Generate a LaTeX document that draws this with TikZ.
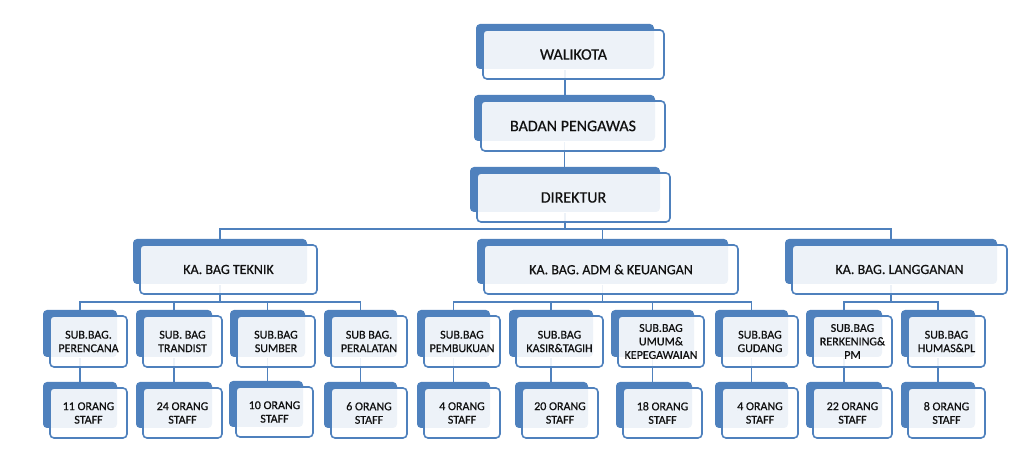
\documentclass[tikz,border=0pt]{standalone}
\usepackage{fontspec}
\setmainfont[FakeBold=0.6]{Carlito}
\definecolor{blu}{HTML}{4F81BD}
\definecolor{txt}{HTML}{111111}
\pgfdeclarelayer{bg}
\pgfdeclarelayer{backl}
\pgfsetlayers{bg,backl,main}
\tikzset{
  front/.style={draw=blu, line width=1.6pt, rounded corners=4pt, fill=white, fill opacity=0.9, text opacity=1, inner sep=0pt, align=center, text=txt},
  lvlA/.style={font=\fontsize{16}{19}\selectfont},
  lvlB/.style={font=\fontsize{14}{17}\selectfont},
  lvlC/.style={font=\fontsize{12}{13.5}\selectfont},
  conn/.style={draw=blu, line width=1.4pt},
  backbox/.style={fill=blu, rounded corners=4pt}
}
% name x1 y1 x2 y2 style text
\newcommand\orgnode[7]{%
  \begin{pgfonlayer}{backl}\fill[backbox] (#2-7,#3-6) rectangle (#4-10,#5-10);\end{pgfonlayer}
  \node[front,#6,minimum width={(#4-#2)*1pt},minimum height={(#5-#3)*1pt}] (#1) at ({(#2+#4)/2},{(#3+#5)/2}) {#7};
  \coordinate (#1T) at ([xshift=-8.5pt]#1.north);
  \coordinate (#1B) at ([xshift=-8.5pt,yshift=10pt]#1.south);
}
\begin{document}
\begin{tikzpicture}[x=1pt,y=-1pt]
\useasboundingbox (0,0) rectangle (1029,470);
\orgnode{wali}{483}{30}{664}{79}{lvlA}{WALIKOTA}
\orgnode{badan}{481}{101}{665}{151}{lvlA}{BADAN PENGAWAS}
\orgnode{dir}{477}{173}{670}{222}{lvlA}{DIREKTUR}
\orgnode{tek}{140}{245}{317}{294}{lvlB}{KA. BAG TEKNIK}
\orgnode{adm}{484}{245}{738}{294}{lvlB}{KA. BAG. ADM \& KEUANGAN}
\orgnode{lang}{792}{245}{1007}{294}{lvlB}{KA. BAG. LANGGANAN}
% sub-sections
\orgnode{per}{50}{316}{127}{367}{lvlC}{SUB.BAG.\\PERENCANA}
\orgnode{tra}{143}{316}{222}{367}{lvlC}{SUB. BAG\\TRANDIST}
\orgnode{sum}{237}{316}{315}{367}{lvlC}{SUB.BAG\\SUMBER}
\orgnode{pal}{331}{316}{407}{367}{lvlC}{SUB BAG.\\PERALATAN}
\orgnode{pem}{424}{316}{500}{367}{lvlC}{SUB.BAG\\PEMBUKUAN}
\orgnode{kas}{516}{316}{603}{367}{lvlC}{SUB.BAG\\KASIR\&TAGIH}
\orgnode{umu}{618}{316}{704}{367}{lvlC}{SUB.BAG\\UMUM\&\\KEPEGAWAIAN}
\orgnode{gud}{722}{316}{798}{367}{lvlC}{SUB.BAG\\GUDANG}
\orgnode{rek}{813}{316}{892}{367}{lvlC}{SUB.BAG\\RERKENING\&\\PM}
\orgnode{hum}{908}{316}{985}{367}{lvlC}{SUB.BAG\\HUMAS\&PL}
% staff
\orgnode{sa}{50}{388}{127}{438}{lvlC}{11 ORANG\\STAFF}
\orgnode{sb}{143}{388}{222}{438}{lvlC}{24 ORANG\\STAFF}
\orgnode{sc}{236}{387}{313}{437}{lvlC}{10 ORANG\\STAFF}
\orgnode{sd}{331}{388}{407}{438}{lvlC}{6 ORANG\\STAFF}
\orgnode{se}{424}{388}{500}{438}{lvlC}{4 ORANG\\STAFF}
\orgnode{sf}{522}{388}{598}{438}{lvlC}{20 ORANG\\STAFF}
\orgnode{sg}{623}{388}{702}{438}{lvlC}{18 ORANG\\STAFF}
\orgnode{sh}{722}{388}{798}{438}{lvlC}{4 ORANG\\STAFF}
\orgnode{si}{813}{388}{892}{438}{lvlC}{22 ORANG\\STAFF}
\orgnode{sj}{908}{388}{985}{438}{lvlC}{8 ORANG\\STAFF}
\coordinate (bus1) at (0,229);
\coordinate (bus2) at (0,302);
\begin{pgfonlayer}{bg}
\draw[conn] (waliB) -- (waliB |- badanT);
\draw[conn] (badanB) -- (badanB |- dirT);
\draw[conn] (dirB) -- (dirB |- bus1);
\draw[conn] (tekT) |- (langT |- bus1) -- (langT);
\draw[conn] (admT) -- (admT |- bus1);
% teknik group
\draw[conn] (tekB) -- (tekB |- bus2);
\draw[conn] (perT) |- (palT |- bus2) -- (palT);
\draw[conn] (traT) -- (traT |- bus2);
\draw[conn] (sumT) -- (sumT |- bus2);
% adm group
\draw[conn] (admB) -- (admB |- bus2);
\draw[conn] (pemT) |- (gudT |- bus2) -- (gudT);
\draw[conn] (kasT) -- (kasT |- bus2);
\draw[conn] (umuT) -- (umuT |- bus2);
% langganan group
\draw[conn] (langB) -- (langB |- bus2);
\draw[conn] (rekT) |- (humT |- bus2) -- (humT);
% sub to staff
\draw[conn] (perB) -- (perB |- saT);
\draw[conn] (traB) -- (traB |- sbT);
\draw[conn] (sumB) -- (sumB |- scT);
\draw[conn] (palB) -- (palB |- sdT);
\draw[conn] (pemB) -- (pemB |- seT);
\draw[conn] (kasB) -- (kasB |- sfT);
\draw[conn] (umuB) -- (umuB |- sgT);
\draw[conn] (gudB) -- (gudB |- shT);
\draw[conn] (rekB) -- (rekB |- siT);
\draw[conn] (humB) -- (humB |- sjT);
\end{pgfonlayer}
\end{tikzpicture}
\end{document}
